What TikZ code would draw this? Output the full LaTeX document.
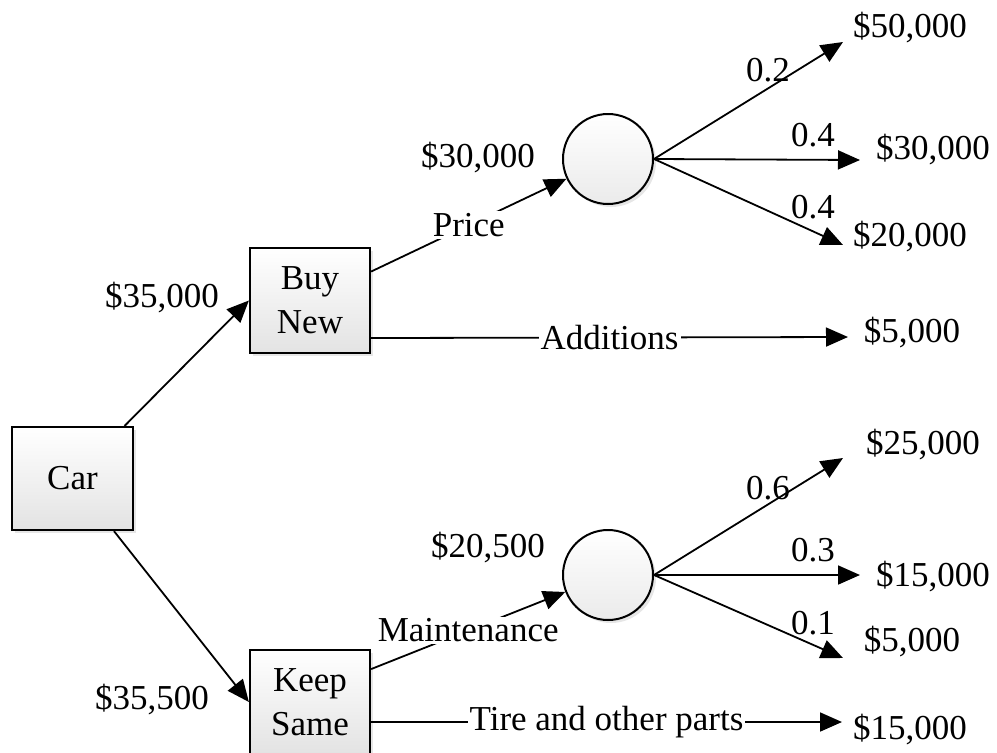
\documentclass[tikz,border=0pt]{standalone}
\usepackage{fontspec}
\setmainfont{Liberation Serif}
\usetikzlibrary{arrows.meta,calc,shadows}

\begin{document}
\begin{tikzpicture}[x=1pt, y=-1pt,
  font=\fontsize{35}{44}\selectfont,
  line width=1.8pt,
  decision/.style={draw, line width=2.2pt, top color=white, bottom color=gray!22,
    drop shadow={opacity=0.2, shadow xshift=3pt, shadow yshift=-3pt},
    minimum width=120pt, minimum height=105pt, align=center, inner sep=0pt},
  chance/.style={circle, draw, line width=2pt, top color=white, bottom color=gray!16,
    drop shadow={opacity=0.2, shadow xshift=3pt, shadow yshift=-3pt},
    minimum size=90pt, inner sep=0pt},
  arr/.style={-{Triangle[length=22pt,width=19pt]}},
  val/.style={inner sep=0pt},
  cut/.style={fill=white, inner sep=2pt}
]
\path[use as bounding box] (0,0) rectangle (997,753);

% decision nodes
\node[decision, minimum width=121pt, minimum height=103pt] (car) at (72.5,478.5) {Car};
\node[decision] (buy) at (310,300.5) {Buy\\New};
\node[decision, minimum height=104pt] (keep) at (310,702) {Keep\\Same};

% chance nodes
\node[chance] (c1) at (608,159) {};
\node[chance] (c2) at (608,575) {};

% amounts on the incoming branches
\node[val] (v35000) at (162,298) {\$35,000};
\node[val] (v35500) at (152,700) {\$35,500};
\node[val] (v30000) at (478,158) {\$30,000};
\node[val] (v20500) at (488,548) {\$20,500};

% outcome values
\node[val] (o50) at (910,28) {\$50,000};
\node[val] (o30) at (933,150) {\$30,000};
\node[val] (o20) at (910,237) {\$20,000};
\node[val] (o5a) at (912,333) {\$5,000};
\node[val] (o25) at (923,445) {\$25,000};
\node[val] (o15) at (933,577) {\$15,000};
\node[val] (o5b) at (912,642) {\$5,000};
\node[val] (o15b) at (910,730) {\$15,000};

% probabilities
\node[val] (p1) at (768,70) {0.2};
\node[val] (p2) at (813,135) {0.4};
\node[val] (p3) at (813,207) {0.4};
\node[val] (p4) at (768,488) {0.6};
\node[val] (p5) at (813,550) {0.3};
\node[val] (p6) at (813,623) {0.1};

% arrow tips of the outcome branches
\coordinate (t50) at (843,42);
\coordinate (t30) at (860,160);
\coordinate (t20) at (843,245);
\coordinate (t5a) at (848,337);
\coordinate (t25) at (843,458);
\coordinate (t15) at (860,575);
\coordinate (t5b) at (843,658);
\coordinate (t15b) at (842,722);

% branches
\draw[arr] (car) -- (buy.west);
\draw[arr] (car) -- (keep.west);
\draw[arr] ($(buy.north east)!0.23!(buy.south east)$) -- node[cut] {Price} (c1);
\draw[arr] ($(buy.north east)!0.85!(buy.south east)$) -- node[cut] {Additions} (t5a);
\draw[arr] ($(keep.north east)!0.19!(keep.south east)$) -- node[cut] {Maintenance} (c2);
\draw[arr] (keep.east |- t15b) -- node[cut] {Tire and other parts} (t15b);

\draw[arr] (c1.east) -- (t50);
\draw[arr] (c1.east) -- (t30);
\draw[arr] (c1.east) -- (t20);
\draw[arr] (c2.east) -- (t25);
\draw[arr] (c2.east) -- (t15);
\draw[arr] (c2.east) -- (t5b);
\end{tikzpicture}
\end{document}
